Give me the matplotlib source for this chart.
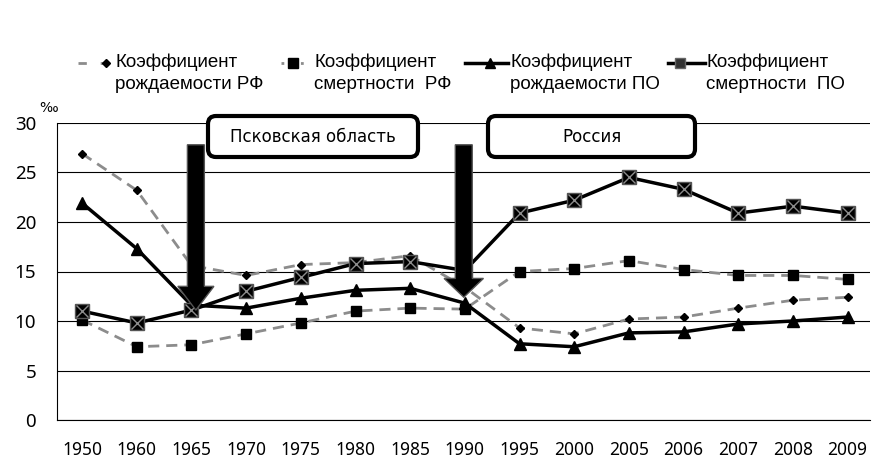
import numpy as np
import matplotlib.pyplot as plt
from matplotlib.lines import Line2D
from matplotlib.patches import FancyArrow, FancyBboxPatch
from matplotlib.transforms import IdentityTransform

# data (per mille)
years = ["1950", "1960", "1965", "1970", "1975", "1980", "1985", "1990",
         "1995", "2000", "2005", "2006", "2007", "2008", "2009"]
birth_rf = [26.9, 23.2, 15.6, 14.6, 15.7, 15.9, 16.6, 13.4,
            9.3, 8.7, 10.2, 10.4, 11.3, 12.1, 12.4]
death_rf = [10.1, 7.4, 7.6, 8.7, 9.8, 11.0, 11.3, 11.2,
            15.0, 15.3, 16.1, 15.2, 14.6, 14.6, 14.2]
birth_po = [21.9, 17.3, 11.6, 11.3, 12.3, 13.1, 13.3, 11.8,
            7.7, 7.4, 8.8, 8.9, 9.7, 10.0, 10.4]
death_po = [11.0, 9.8, 11.1, 13.0, 14.4, 15.8, 16.0, 15.1,
            20.9, 22.2, 24.5, 23.3, 20.9, 21.6, 20.9]

labels = [("Коэффициент", "рождаемости РФ"), ("Коэффициент", "смертности  РФ"),
          ("Коэффициент", "рождаемости ПО"), ("Коэффициент", "смертности  ПО")]

W, H = 886, 462
def fx(p):
    return p / W
def fy(p):
    return 1 - p / H

fig = plt.figure(figsize=(W / 100, H / 100), dpi=100)
ax = fig.add_axes([fx(57), fy(420), (870 - 57) / W, (420 - 123) / H])

x = np.arange(len(years))
gray = '#8c8c8c'
dash = (0, (4, 2.5))

ax.plot(x, birth_rf, color=gray, ls=dash, lw=2, marker='D', ms=4.5,
        mfc='black', mec='black', zorder=3)
ax.plot(x, death_rf, color=gray, ls=dash, lw=2, marker='s', ms=7,
        mfc='black', mec='black', zorder=3)
ax.plot(x, birth_po, color='black', lw=2.5, marker='^', ms=8.5,
        mfc='black', mec='black', zorder=4)
ax.plot(x, death_po, color='black', lw=2.5, marker='s', ms=10,
        mfc='black', mec='#555555', zorder=4)
ax.plot(x, death_po, ls='none', marker='x', ms=8, mec='#8c8c8c', mew=1, zorder=5)

# arrows
ax.add_patch(FancyArrow(2.08, 27.8, 0, -16.7, width=0.31, head_width=0.66,
                        head_length=2.4, length_includes_head=True,
                        fc='black', ec='#555555', lw=1, zorder=6))
ax.add_patch(FancyArrow(6.98, 27.8, 0, -15.4, width=0.31, head_width=0.72,
                        head_length=1.9, length_includes_head=True,
                        fc='black', ec='#555555', lw=1, zorder=6))

ax.set_xlim(-0.46, 14.41)
ax.set_ylim(0, 30)
ax.set_yticks(range(0, 31, 5))
ax.set_xticks(x)
ax.set_xticklabels(years)
ax.tick_params(length=0, labelsize=12.5)
for t in ax.get_xticklabels() + ax.get_yticklabels():
    t.set_family('Noto Sans')
ax.tick_params(axis='y', labelsize=13.5, pad=15)
ax.tick_params(axis='x', pad=15)
ax.grid(axis='y', color='black', lw=0.8)
ax.set_axisbelow(True)
for s in ['right', 'top']:
    ax.spines[s].set_visible(False)
ax.spines['bottom'].set_color('black')
ax.spines['left'].set_color('black')

# region boxes
for (x0, x1, txt) in [(208, 418, "Псковская область"), (488, 695, "Россия")]:
    box = FancyBboxPatch((x0, H - 157), x1 - x0, 41,
                         boxstyle="round,pad=0,rounding_size=8",
                         transform=IdentityTransform(), fc='white',
                         ec='black', lw=3, zorder=10)
    fig.add_artist(box)
    fig.text(fx((x0 + x1) / 2), fy(137), txt, ha='center', va='center',
             fontsize=12, zorder=11)

# legend drawn by hand
handles = [
    ([78, 106, 112], dict(color=gray, ls=(0, (3, 5)), lw=2, marker='D', ms=4,
                          mfc='black', mec='black')),
    ([281, 293, 311], dict(color=gray, ls=(0, (1, 6)), lw=2, marker='s', ms=6.5,
                           mfc='black', mec='black')),
    ([465, 490, 508], dict(color='black', lw=2.5, marker='^', ms=6.5,
                           mfc='black', mec='black')),
    ([668, 680, 705], dict(color='black', lw=2.5, marker='s', ms=7,
                           mfc='#333333', mec='#666666')),
]
text_x = [115, 314, 510, 706]
for (xs, st), tx, (l1, l2) in zip(handles, text_x, labels):
    fig.add_artist(Line2D([fx(v) for v in xs], [fy(63)] * 3, markevery=[1],
                          transform=fig.transFigure, **st))
    fig.text(fx(tx), fy(62), l1, ha='left', va='center', fontsize=13.5,
             family='Liberation Sans')
    fig.text(fx(tx), fy(85), l2, ha='left', va='center', fontsize=13.5,
             family='Liberation Sans')

fig.text(fx(49), fy(108), "‰", ha='center', va='center', fontsize=10)

fig.savefig("out.png", dpi=100)
